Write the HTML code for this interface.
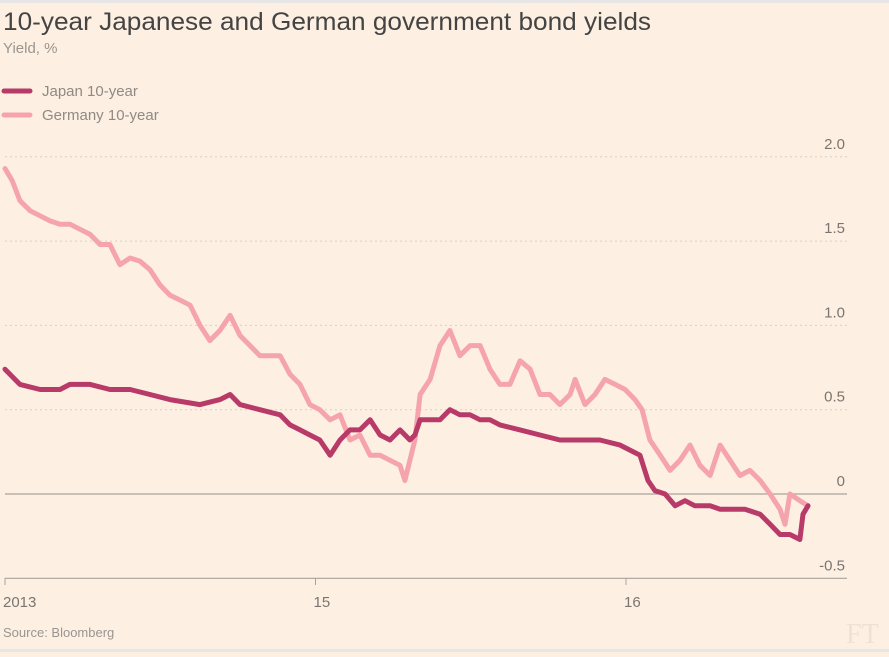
<!DOCTYPE html>
<html><head><meta charset="utf-8"><style>
body{margin:0;background:#fdf0e2;width:889px;height:652px;overflow:hidden;font-family:"Liberation Sans",sans-serif}
</style></head><body>
<svg width="889" height="652" xmlns="http://www.w3.org/2000/svg">
<rect width="889" height="652" fill="#fdf0e2"/>
<rect width="889" height="3" fill="#e6e6e6"/>
<rect y="649" width="889" height="3" fill="#e6e6e6"/>
<text x="3" y="30" font-size="25" fill="#444" textLength="648" lengthAdjust="spacingAndGlyphs">10-year Japanese and German government bond yields</text>
<text x="3" y="53" font-size="15" fill="#9a9590">Yield, %</text>
<line x1="4" y1="91" x2="30" y2="91" stroke="#b83a69" stroke-width="5" stroke-linecap="round"/>
<text x="42" y="96" font-size="15" fill="#8f8a85">Japan 10-year</text>
<line x1="4" y1="115" x2="30" y2="115" stroke="#f5a4ad" stroke-width="5" stroke-linecap="round"/>
<text x="42" y="120" font-size="15" fill="#8f8a85">Germany 10-year</text>
<g id="grid"></g><g id="series"></g><g id="xaxis"></g>
<text x="3" y="637" font-size="13" fill="#9a9590">Source: Bloomberg</text>
<text x="846" y="643" font-size="28" font-family="Liberation Serif,serif" fill="#f0e1d2">FT</text>
</svg>
<script>
const yTicks=[2.0,1.5,1.0,0.5,0,-0.5];
const yTickLabels=["2.0","1.5","1.0","0.5","0","-0.5"];
const xTicks=[2014,2015,2016];
const xTickLabels=["2013","15","16"];
const deDates=[2014,2014.023,2014.048,2014.081,2014.113,2014.145,2014.177,2014.209,2014.242,2014.274,2014.306,2014.338,2014.370,2014.403,2014.435,2014.467,2014.499,2014.531,2014.564,2014.596,2014.628,2014.660,2014.692,2014.725,2014.757,2014.789,2014.821,2014.853,2014.886,2014.918,2014.950,2014.982,2015.014,2015.047,2015.079,2015.111,2015.143,2015.176,2015.208,2015.240,2015.272,2015.288,2015.304,2015.320,2015.337,2015.369,2015.401,2015.433,2015.465,2015.498,2015.530,2015.562,2015.594,2015.626,2015.659,2015.691,2015.723,2015.755,2015.787,2015.820,2015.836,2015.868,2015.900,2015.932,2015.965,2015.997,2016.029,2016.052,2016.077,2016.110,2016.142,2016.174,2016.206,2016.238,2016.271,2016.303,2016.335,2016.367,2016.399,2016.432,2016.464,2016.496,2016.512,2016.528,2016.560,2016.586];
const deValues=[1.93,1.86,1.74,1.68,1.65,1.62,1.60,1.60,1.57,1.54,1.48,1.48,1.36,1.40,1.38,1.33,1.24,1.18,1.15,1.12,1.00,0.91,0.97,1.06,0.94,0.88,0.82,0.82,0.82,0.71,0.65,0.53,0.50,0.44,0.47,0.32,0.35,0.23,0.23,0.20,0.17,0.08,0.20,0.32,0.59,0.68,0.88,0.97,0.82,0.88,0.88,0.74,0.65,0.65,0.79,0.74,0.59,0.59,0.53,0.59,0.68,0.53,0.59,0.68,0.65,0.62,0.56,0.50,0.32,0.23,0.14,0.20,0.29,0.17,0.11,0.29,0.20,0.11,0.14,0.08,0.0,-0.09,-0.18,0.0,-0.04,-0.07];
const jpDates=[2014,2014.048,2014.113,2014.177,2014.209,2014.274,2014.338,2014.403,2014.467,2014.531,2014.628,2014.692,2014.725,2014.757,2014.821,2014.886,2014.918,2014.950,2014.982,2015.014,2015.047,2015.079,2015.111,2015.143,2015.176,2015.208,2015.240,2015.272,2015.304,2015.320,2015.337,2015.369,2015.401,2015.433,2015.465,2015.498,2015.530,2015.562,2015.594,2015.659,2015.723,2015.787,2015.852,2015.916,2015.981,2016.045,2016.071,2016.093,2016.126,2016.158,2016.190,2016.222,2016.271,2016.303,2016.335,2016.383,2016.432,2016.464,2016.496,2016.528,2016.560,2016.570,2016.586];
const jpValues=[0.74,0.65,0.62,0.62,0.65,0.65,0.62,0.62,0.59,0.56,0.53,0.56,0.59,0.53,0.50,0.47,0.41,0.38,0.35,0.32,0.23,0.32,0.38,0.38,0.44,0.35,0.32,0.38,0.32,0.35,0.44,0.44,0.44,0.50,0.47,0.47,0.44,0.44,0.41,0.38,0.35,0.32,0.32,0.32,0.29,0.23,0.08,0.02,0.0,-0.07,-0.04,-0.07,-0.07,-0.09,-0.09,-0.09,-0.12,-0.18,-0.24,-0.24,-0.27,-0.12,-0.07];
const NS="http://www.w3.org/2000/svg";
const x=d=>5+(d-2014)*310.5;
const y=v=>494-v*168.6;
const grid=document.getElementById('grid');
yTicks.forEach((t,i)=>{
  const l=document.createElementNS(NS,'line');
  l.setAttribute('x1',5);l.setAttribute('x2',847);l.setAttribute('y1',y(t));l.setAttribute('y2',y(t));
  const solid=(t===0||i===yTicks.length-1);
  l.setAttribute('stroke',solid?'#a8a29c':'#d8cfc6');
  l.setAttribute('stroke-width',solid?1.2:1);
  if(!solid)l.setAttribute('stroke-dasharray','2,3');
  
  
  grid.appendChild(l);
  const tx=document.createElementNS(NS,'text');
  tx.setAttribute('x',845);tx.setAttribute('y',y(t)-8);tx.setAttribute('text-anchor','end');
  tx.setAttribute('font-size','15');tx.setAttribute('fill','#7a7570');
  tx.textContent=yTickLabels[i];
  
  
  grid.appendChild(tx);
});
const xa=document.getElementById('xaxis');
xTicks.forEach((t,i)=>{
  const l=document.createElementNS(NS,'line');
  l.setAttribute('x1',x(t));l.setAttribute('x2',x(t));l.setAttribute('y1',578);l.setAttribute('y2',585);
  l.setAttribute('stroke','#a8a29c');
  
  
  xa.appendChild(l);
  const tx=document.createElementNS(NS,'text');
  tx.setAttribute('x',x(t)-2);tx.setAttribute('y',607);tx.setAttribute('font-size','15');tx.setAttribute('fill','#7a7570');
  tx.textContent=xTickLabels[i];
  
  
  xa.appendChild(tx);
});
const ser=document.getElementById('series');
function draw(ds,vs,color,name){
  const p=document.createElementNS(NS,'path');
  p.setAttribute('d',ds.map((d,i)=>(i?'L':'M')+x(d).toFixed(1)+','+y(vs[i]).toFixed(1)).join(''));
  p.setAttribute('fill','none');p.setAttribute('stroke',color);p.setAttribute('stroke-width',5);
  p.setAttribute('stroke-linejoin','round');p.setAttribute('stroke-linecap','round');
  
  
  ser.appendChild(p);
}
draw(deDates,deValues,'#f5a4ad','germany-line');
draw(jpDates,jpValues,'#b83a69','japan-line');
</script>
</body></html>
